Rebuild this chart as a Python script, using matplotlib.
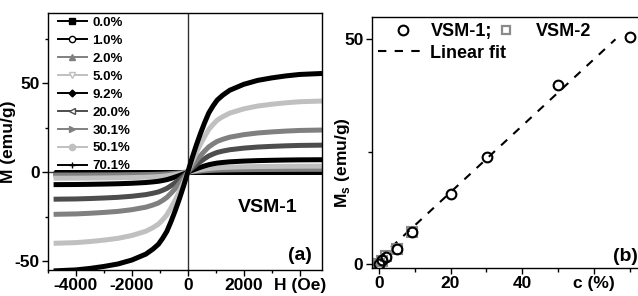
import numpy as np
import matplotlib
matplotlib.use('Agg')
import matplotlib.pyplot as plt
from matplotlib.lines import Line2D

plt.rcParams['font.family'] = ['Liberation Sans', 'DejaVu Sans']
plt.rcParams['font.weight'] = 'bold'
plt.rcParams['mathtext.fontset'] = 'custom'
plt.rcParams['mathtext.rm'] = 'Liberation Sans'
plt.rcParams['mathtext.bf'] = 'Liberation Sans:bold'

# ---- panel (a): M(H) loops ----
labels_a = ['0.0%', '1.0%', '2.0%', '5.0%', '9.2%', '20.0%', '30.1%', '50.1%', '70.1%']
ms_a = [0.0, 0.9, 1.6, 3.4, 7.0, 15.2, 23.7, 40.0, 55.5]   # saturation of each curve
# positive field half of the (symmetric) curves, normalised to saturation
h_pos = [0, 150, 300, 450, 600, 750, 900, 1050, 1250, 1500, 1750, 2000,
         2500, 3000, 3500, 4000, 4800]
m_shape = [0, 0.14, 0.27, 0.39, 0.50, 0.60, 0.67, 0.73, 0.78, 0.83, 0.86,
           0.89, 0.93, 0.955, 0.975, 0.99, 1.0]
colors_a = ['#000000', '#000000', '#808080', '#c0c0c0', '#000000',
            '#4d4d4d', '#808080', '#c0c0c0', '#000000']
markers_a = ['s', 'o', '^', 'v', 'D', '<', '>', 'o', '+']
filled_a = [True, False, True, False, True, False, True, True, True]

# ---- panel (b): Ms vs concentration ----
c_vsm1 = [0, 1.0, 2.0, 5.0, 9.2, 20.0, 30.1, 50.1, 70.1]
ms_vsm1 = [0, 0.9, 1.6, 3.4, 7.1, 15.5, 23.8, 39.9, 50.5]
c_vsm2 = [0, 1.0, 2.0, 5.0, 9.2]
ms_vsm2 = [0.1, 0.8, 1.7, 3.3, 7.2]
fit_slope = 0.74
fit_icpt = 1.2
fit_range = [0, 66]

W, H = 638, 296
fig = plt.figure(figsize=(W / 100, H / 100), dpi=100)

def px_axes(l, t, r, b):
    return fig.add_axes([l / W, 1 - b / H, (r - l) / W, (b - t) / H])

# ================= panel (a) =================
ax = px_axes(48, 13, 322, 270)
h = np.array(h_pos, dtype=float)
s = np.array(m_shape)
hh = np.concatenate([-h[::-1], h[1:]])
for i in range(len(labels_a)):
    mm = np.concatenate([-s[::-1], s[1:]]) * ms_a[i]
    ax.plot(hh, mm, color=colors_a[i], lw=3.6, solid_capstyle='butt')
ax.axvline(0, color='#333333', lw=1.0, zorder=0)
ax.axhline(0, color='#333333', lw=1.0, zorder=0)
ax.set_xlim(-5000, 4800)
ax.set_ylim(-55, 89.5)
ax.set_xticks([-4000, -2000, 0, 2000, 4000])
ax.set_xticklabels(['-4000', '-2000', '0', '2000', 'H (Oe)'])
ax.set_xticks([-5000, -3000, -1000, 1000, 3000], minor=True)
ax.set_yticks([-50, 0, 50])
ax.set_yticklabels(['-50', '0', '50'])
ax.set_yticks([-25, 25, 75], minor=True)
ax.tick_params(which='both', direction='out', top=False, right=False,
               labelsize=12.5, width=1.0)
ax.tick_params(which='major', length=4, pad=2)
ax.tick_params(which='minor', length=2.5)
for sp in ax.spines.values():
    sp.set_linewidth(1.0)
ax.set_ylabel('M (emu/g)', fontsize=12.5, fontweight='bold')
ax.yaxis.set_label_coords(-0.117, 0.5)

handles = []
for i in range(len(labels_a)):
    mfc = colors_a[i] if filled_a[i] else 'white'
    handles.append(Line2D([], [], color=colors_a[i], lw=1.4, marker=markers_a[i],
                          ms=4.5 if markers_a[i] != 'D' else 3.5,
                          mfc=mfc, mec=colors_a[i], mew=1.0))
ax.legend(handles, labels_a, loc='upper left', bbox_to_anchor=(0.035, 0.985),
          frameon=False, handlelength=2.2, handletextpad=0.45,
          labelspacing=0.43, borderpad=0, borderaxespad=0,
          prop={'weight': 'bold', 'size': 9.5})
ax.text(0.801, 0.245, 'VSM-1', transform=ax.transAxes, ha='center', va='center',
        fontsize=14, fontweight='bold')
ax.text(0.918, 0.058, '(a)', transform=ax.transAxes, ha='center', va='center',
        fontsize=14, fontweight='bold')

# ================= panel (b) =================
bx = px_axes(371.7, 17, 651.3, 267.7)
bx.plot(c_vsm2, ms_vsm2, ls='none', marker='s', ms=7, mfc='none',
        mec='#8a8a8a', mew=1.5, zorder=2)
bx.plot(c_vsm1, ms_vsm1, ls='none', marker='o', ms=7, mfc='none',
        mec='black', mew=1.5, zorder=3)
fx = np.array(fit_range, dtype=float)
bx.plot(fx, fit_slope * fx + fit_icpt, color='black', lw=1.5, ls=(0, (4, 4)), zorder=1)
bx.set_xlim(-2, 76)
bx.set_ylim(-0.8, 55)
bx.set_xticks([0, 20, 40, 60])
bx.set_xticklabels(['0', '20', '40', 'c (%)'])
bx.set_xticks([10, 30, 50, 70], minor=True)
bx.set_yticks([0, 50])
bx.set_yticks([25], minor=True)
bx.tick_params(which='both', direction='out', top=False, right=False,
               labelsize=12.5, width=1.0)
bx.tick_params(which='major', length=4, pad=2)
bx.tick_params(which='minor', length=3)
for sp in bx.spines.values():
    sp.set_linewidth(1.0)
bx.set_ylabel(r'M$_\mathregular{s}$ (emu/g)', fontsize=12.5, fontweight='bold')
bx.yaxis.set_label_coords(-0.07, 0.42)

h1 = Line2D([], [], ls='none', marker='o', ms=7, mfc='none', mec='black', mew=1.5)
h2 = Line2D([], [], color='black', lw=1.5, ls=(0, (4, 4)))
leg1 = bx.legend([h1, h2], ['VSM-1;', 'Linear fit'], loc='upper left',
                 bbox_to_anchor=(0.023, 0.975), frameon=False, handlelength=2.7,
                 handletextpad=0.2, labelspacing=0.25, borderpad=0, borderaxespad=0,
                 prop={'weight': 'bold', 'size': 13})
bx.add_artist(leg1)
h3 = Line2D([], [], ls='none', marker='s', ms=6, mfc='none', mec='#8a8a8a', mew=1.6)
bx.legend([h3], ['VSM-2'], loc='upper left', bbox_to_anchor=(0.382, 0.975),
          frameon=False, handlelength=3.0, handletextpad=0.2, borderpad=0,
          borderaxespad=0, prop={'weight': 'bold', 'size': 13})
bx.text(0.906, 0.043, '(b)', transform=bx.transAxes, ha='center', va='center',
        fontsize=14, fontweight='bold')

fig.savefig('out.png', dpi=100)
